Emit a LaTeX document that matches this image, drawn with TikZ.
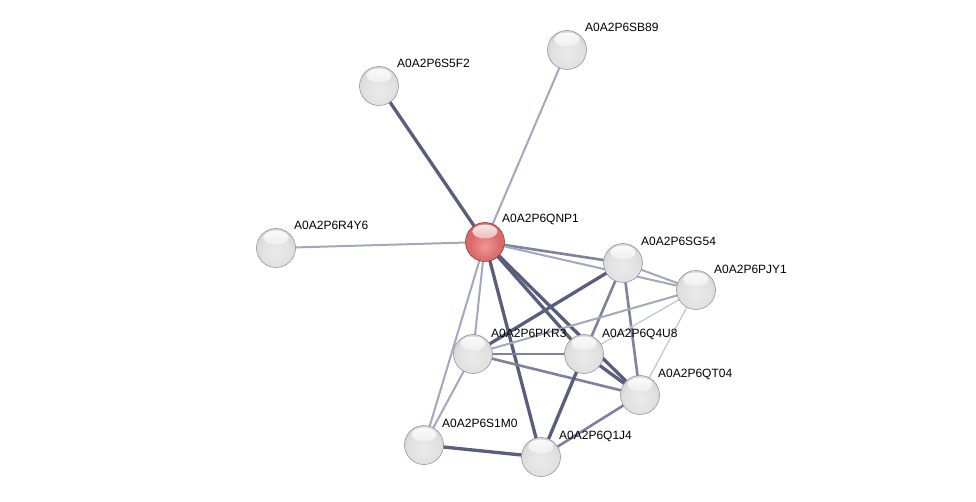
\documentclass[tikz,border=0pt]{standalone}
\usepackage{fontspec}
\setmainfont{Liberation Sans}
\usetikzlibrary{backgrounds}
\definecolor{edgeV}{RGB}{196,200,214}
\definecolor{edgeL}{RGB}{162,168,190}
\definecolor{edgeM}{RGB}{124,130,160}
\definecolor{edgeD}{RGB}{88,94,124}
\definecolor{rA}{RGB}{240,150,150}
\definecolor{rB}{RGB}{218,105,105}
\definecolor{rC}{RGB}{190,75,75}
\definecolor{rD}{RGB}{140,40,40}
\pgfdeclareradialshading{greyball}{\pgfpoint{0bp}{-6bp}}{%
  color(0bp)=(white!92!black); color(20bp)=(white!88!black); color(36bp)=(white!80!black);
  color(46bp)=(white!66!black); color(54bp)=(white!52!black); color(70bp)=(white!45!black)}
\pgfdeclareradialshading{redball}{\pgfpoint{0bp}{-6bp}}{%
  color(0bp)=(rA); color(20bp)=(rB); color(36bp)=(rB);
  color(46bp)=(rC); color(54bp)=(rD); color(70bp)=(rD)}
\tikzset{
  gloss/.style={path picture={
     \shade[top color=white, bottom color=#1, opacity=0.9]
       ([yshift=10.5pt]path picture bounding box.center) ellipse (12.5pt and 7pt);}},
  prot/.style={circle, minimum size=39pt, inner sep=0pt, shading=greyball,
     draw=white!55!black, line width=0.5pt, gloss=white!86!black},
  qprot/.style={circle, minimum size=39pt, inner sep=0pt, shading=redball,
     draw=rD, line width=0.5pt, gloss=rB},
  lab/.style={anchor=base west, inner sep=0pt, font=\fontsize{12}{14}\selectfont},
  evl/.style={draw=edgeV, line width=1.3pt},
  elt/.style={draw=edgeL, line width=2pt},
  emd/.style={draw=edgeM, line width=2.6pt},
  edk/.style={draw=edgeD, line width=3.3pt}
}
\begin{document}
\begin{tikzpicture}[x=1pt,y=-1pt]
\useasboundingbox (0,0) rectangle (976,502);
% nodes
\node[qprot] (QNP1) at (485,242) {};
\node[prot] (SB89) at (567,50) {};
\node[prot] (S5F2) at (379,86) {};
\node[prot] (R4Y6) at (276,248) {};
\node[prot] (SG54) at (623,263) {};
\node[prot] (PJY1) at (696,290) {};
\node[prot] (PKR3) at (473,354) {};
\node[prot] (Q4U8) at (584,354) {};
\node[prot] (QT04) at (640,395) {};
\node[prot] (S1M0) at (424,445) {};
\node[prot] (Q1J4) at (541,457) {};
% labels
\node[lab] at (502,223) {A0A2P6QNP1};
\node[lab] at (585,32) {A0A2P6SB89};
\node[lab] at (397,68) {A0A2P6S5F2};
\node[lab] at (294,230) {A0A2P6R4Y6};
\node[lab] at (641,246) {A0A2P6SG54};
\node[lab] at (714,274) {A0A2P6PJY1};
\node[lab] at (491,337) {A0A2P6PKR3};
\node[lab] at (602,337) {A0A2P6Q4U8};
\node[lab] at (658,377) {A0A2P6QT04};
\node[lab] at (442,427) {A0A2P6S1M0};
\node[lab] at (559,439) {A0A2P6Q1J4};
% edges
\begin{scope}[on background layer]
\fill[white] (0,0) rectangle (976,502);
\draw[elt] (QNP1.center) -- (SB89.center);
\draw[edk] (QNP1.center) -- (S5F2.center);
\draw[elt] (QNP1.center) -- (R4Y6.center);
\draw[emd] (QNP1.center) -- (SG54.center);
\draw[elt] (QNP1.center) -- (PJY1.center);
\draw[edk] (QNP1.center) -- (Q4U8.center);
\draw[edk] (QNP1.center) -- (QT04.center);
\draw[elt] (QNP1.center) -- (PKR3.center);
\draw[elt] (QNP1.center) -- (S1M0.center);
\draw[edk] (QNP1.center) -- (Q1J4.center);
\draw[edk] (SG54.center) -- (PKR3.center);
\draw[emd] (SG54.center) -- (Q4U8.center);
\draw[emd] (SG54.center) -- (QT04.center);
\draw[elt] (SG54.center) -- (PJY1.center);
\draw[elt] (PJY1.center) -- (PKR3.center);
\draw[evl] (PJY1.center) -- (Q4U8.center);
\draw[evl] (PJY1.center) -- (QT04.center);
\draw[emd] (PKR3.center) -- (Q4U8.center);
\draw[emd] (PKR3.center) -- (QT04.center);
\draw[elt] (PKR3.center) -- (S1M0.center);
\draw[edk] (Q4U8.center) -- (QT04.center);
\draw[edk] (Q4U8.center) -- (Q1J4.center);
\draw[emd] (QT04.center) -- (Q1J4.center);
\draw[edk] (S1M0.center) -- (Q1J4.center);
\end{scope}
\end{tikzpicture}
\end{document}
